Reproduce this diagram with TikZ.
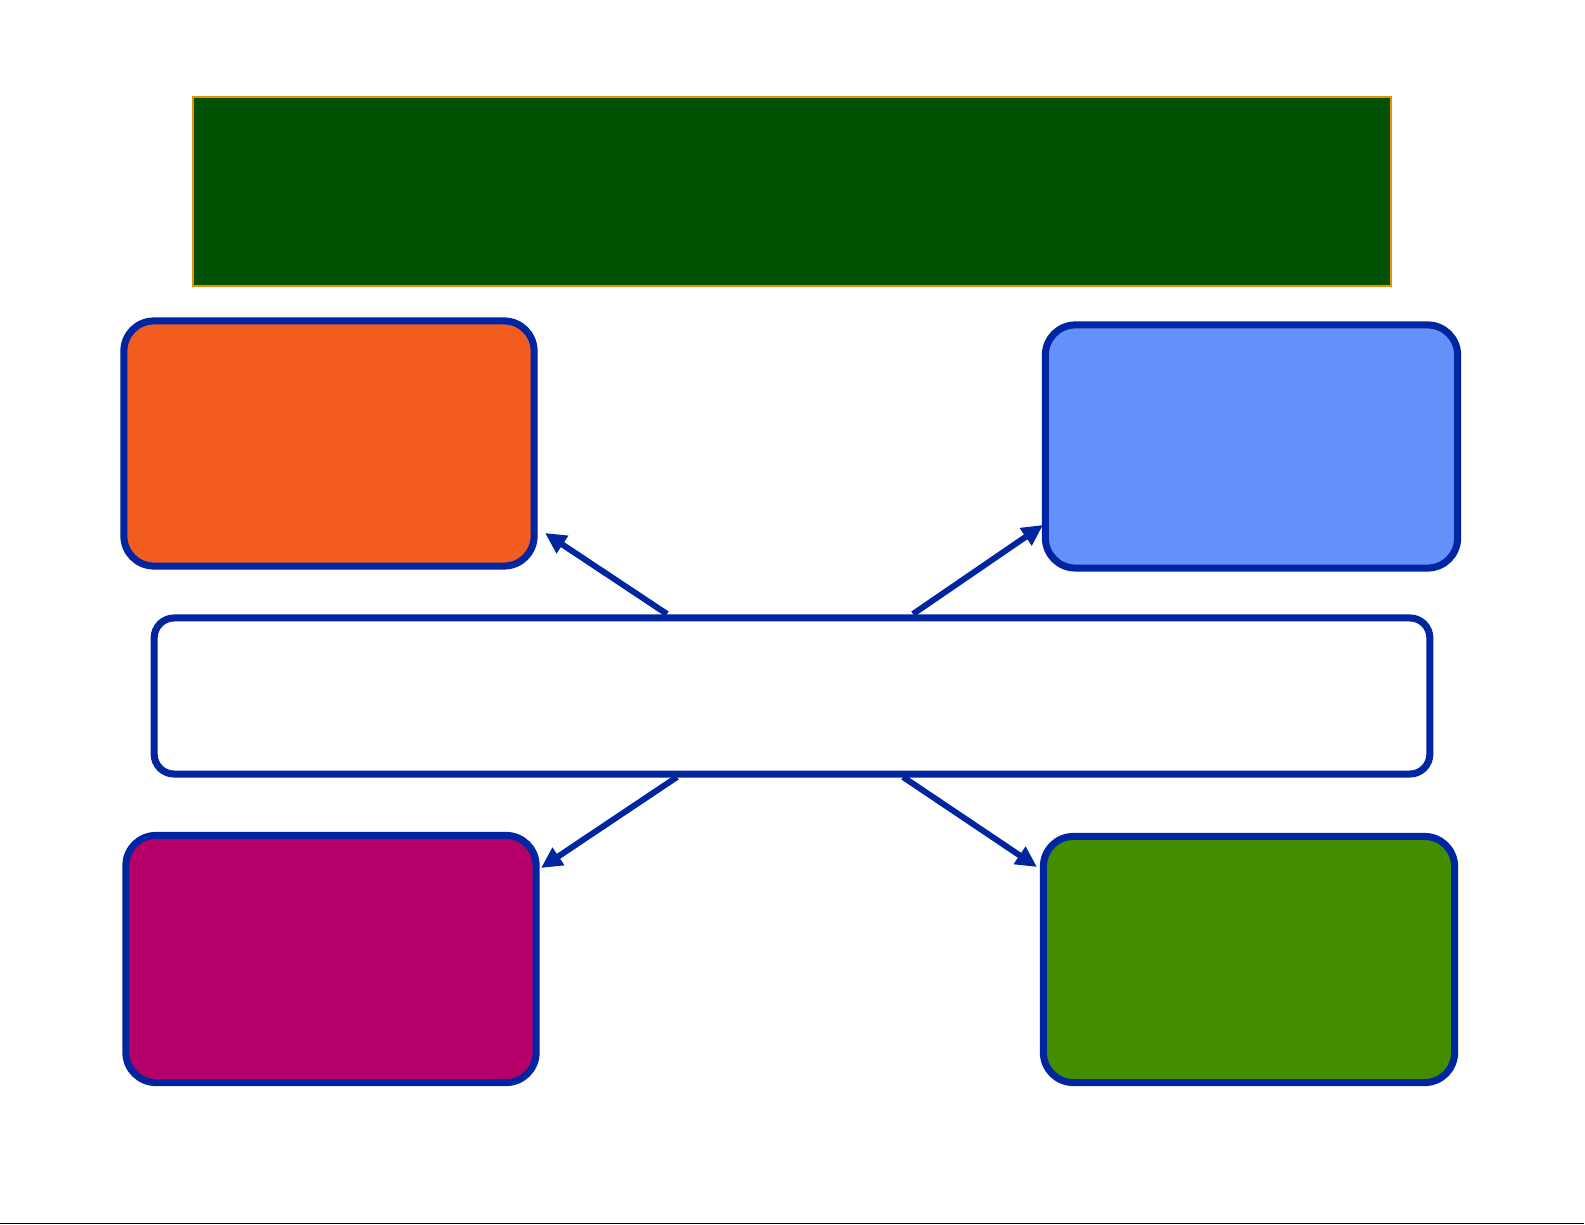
\documentclass[tikz,border=0pt]{standalone}
\usetikzlibrary{arrows.meta}

\definecolor{titlegreen}{RGB}{0,82,0}
\definecolor{titleedge}{RGB}{232,144,0}
\definecolor{edgeblue}{RGB}{0,37,160}
\definecolor{boxorange}{RGB}{242,92,30}
\definecolor{boxblue}{RGB}{100,144,250}
\definecolor{boxpurple}{RGB}{181,0,106}
\definecolor{boxgreen}{RGB}{68,140,0}

\begin{document}
\begin{tikzpicture}[
    x=0.01cm, y=-0.01cm,
    card/.style={draw=edgeblue, line width=2pt, rounded corners=0.3cm, minimum width=4.1cm, minimum height=2.45cm},
    banner/.style={draw=titleedge, fill=titlegreen, line width=0.6pt, minimum width=11.98cm, minimum height=1.89cm},
    hub/.style={draw=edgeblue, fill=white, line width=2pt, rounded corners=0.2cm, minimum width=12.75cm, minimum height=1.56cm},
    link/.style={-{Triangle[length=2.1mm, width=2mm]}, draw=edgeblue, line width=1.7pt},
]
    \useasboundingbox (0,0) rectangle (1585,1225);

    \node[banner] (title) at (792,191.5) {};
    \node[card, fill=boxorange] (topleft) at (329,443.5) {};
    \node[card, fill=boxblue, minimum width=4.12cm, minimum height=2.43cm] (topright) at (1251.5,446.5) {};
    \node[card, fill=boxpurple, minimum height=2.47cm] (botleft) at (331,959) {};
    \node[card, fill=boxgreen, minimum width=4.11cm, minimum height=2.46cm] (botright) at (1249,959.5) {};

    % arrow ends
    \coordinate (tl) at (545,533);
    \coordinate (tr) at (1043,525);
    \coordinate (bl) at (541,868);
    \coordinate (br) at (1037,867);

    \draw[link] (667,614) coordinate (s1) -- (tl);
    \draw[link] (913,614) coordinate (s2) -- (tr);
    \draw[link] (677,777) coordinate (s3) -- (bl);
    \draw[link] (903,777) coordinate (s4) -- (br);

    \node[hub] (center) at (792,696) {};

    \draw[line width=0.4pt] (0,1223.5) coordinate (e1) -- (1584,1223.5) coordinate (e2);
\end{tikzpicture}
\end{document}
